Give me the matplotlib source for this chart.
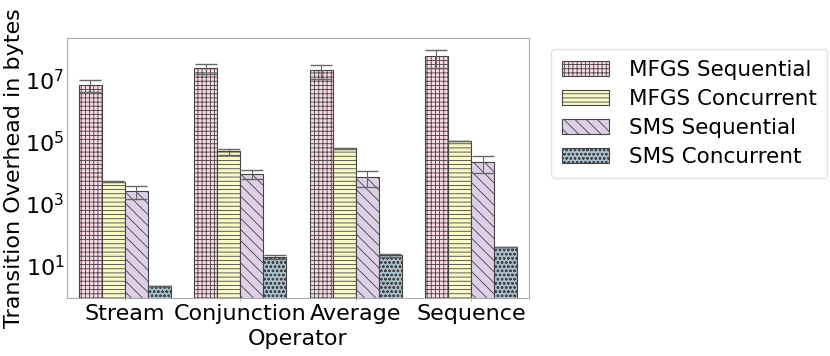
import numpy as np
import matplotlib
matplotlib.use('Agg')
import matplotlib.pyplot as plt

plt.rcParams['hatch.linewidth'] = 0.6

operators = ['Stream', 'Conjunction', 'Average', 'Sequence']
series = ['MFGS Sequential', 'MFGS Concurrent', 'SMS Sequential', 'SMS Concurrent']

mfgs_seq = [6.9e6, 2.4e7, 2.0e7, 5.9e7]
mfgs_seq_err = [3.0e6, 0.9e7, 0.95e7, 3.5e7]
mfgs_conc = [5.1e3, 4.9e4, 6.1e4, 1.05e5]
mfgs_conc_err = [200, 1.0e4, 4.0e3, 0]
sms_seq = [2.6e3, 9.3e3, 7.6e3, 2.3e4]
sms_seq_err = [1.2e3, 3.0e3, 4.0e3, 1.3e4]
sms_conc = [2.3, 20, 22, 42]
sms_conc_err = [0, 3, 3, 0]

values = [mfgs_seq, mfgs_conc, sms_seq, sms_conc]
errors = [mfgs_seq_err, mfgs_conc_err, sms_seq_err, sms_conc_err]
colors = ['#f9d9e5', '#fafac6', '#ddd0e6', '#a9bfcc']
hatches = ['++++', '----', '\\\\\\', 'oooo']

fig = plt.figure(figsize=(8.3, 3.56), dpi=100)
ax = fig.add_axes([0.081, 0.163, 0.556, 0.730])

x = np.arange(len(operators))
w = 0.2
for i in range(4):
    ax.bar(x + (i - 1.5) * w, values[i], w, color=colors[i], hatch=hatches[i],
           edgecolor='#444444', linewidth=0.8, label=series[i],
           yerr=errors[i], ecolor='#666666', capsize=8,
           error_kw={'elinewidth': 0.8, 'capthick': 1.0})

ax.set_yscale('log')
ax.set_ylim(0.93, 2.2e8)
ax.set_xlim(-0.5, 3.5)
ax.set_yticks([10, 1e3, 1e5, 1e7])
ax.minorticks_off()
ax.set_xticks(x)
ax.set_xticklabels(operators)
ax.tick_params(axis='both', labelsize=16, length=2, color='#bbbbbb', pad=2)
ax.tick_params(axis='y', length=0)
for s in ax.spines.values():
    s.set_color('#aaaaaa')
    s.set_linewidth(0.8)

ax.set_xlabel('Operator', fontsize=16, labelpad=4)
ax.set_ylabel('Transition Overhead in bytes', fontsize=16, labelpad=1)

ax.legend(loc='upper left', bbox_to_anchor=(1.025, 1.0), fontsize=15.5,
          frameon=True, edgecolor='#dddddd', handlelength=2.2,
          handletextpad=0.9, labelspacing=0.42, borderpad=0.5)

fig.savefig('out.png', dpi=100)
